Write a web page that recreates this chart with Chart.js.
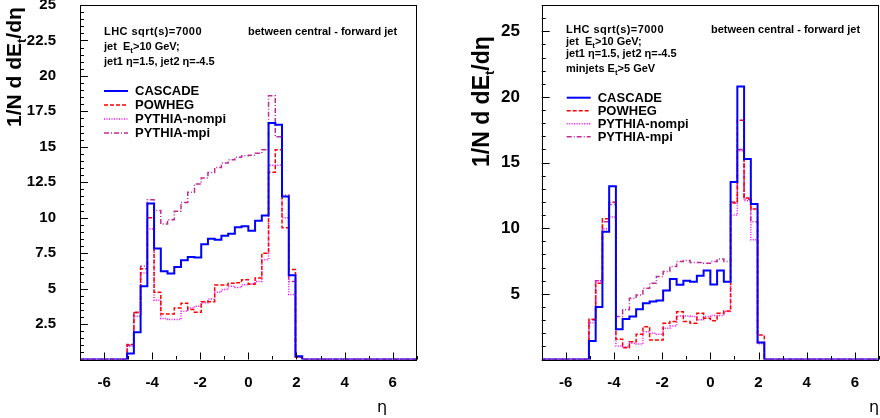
<!DOCTYPE html>
<html><head><meta charset="utf-8">
<script src="https://cdn.jsdelivr.net/npm/chart.js@4.4.1/dist/chart.umd.min.js"></script>
<style>
body{margin:0;background:#fff;}
#wrap{position:relative;width:880px;height:418px;overflow:hidden;background:#fff;}
canvas{position:absolute;top:0;}
.t{position:absolute;font:bold 11px "Liberation Sans",Arial,sans-serif;line-height:14px;white-space:nowrap;color:#000;}
.t sub{font-size:8px;vertical-align:-3px;line-height:0;}
.ls{letter-spacing:0.45px;}
.yt{position:absolute;font:bold 21px "Liberation Sans",Arial,sans-serif;line-height:24px;white-space:nowrap;color:#000;transform-origin:0 0;transform:rotate(-90deg);}
.yt sub{font-size:13px;vertical-align:-5px;line-height:0;}
.eta{position:absolute;font:16px "DejaVu Sans",sans-serif;line-height:20px;color:#000;}
</style></head><body>
<div id="wrap">
<canvas id="cL" width="440" height="418" style="left:0"></canvas>
<canvas id="cR" width="440" height="418" style="left:440px"></canvas>

<div class="yt" style="left:2px;top:127px">1/N d dE<sub>t</sub>/dη</div>
<div class="yt" style="left:468px;top:167px;font-size:23px;line-height:26px">1/N d dE<sub>t</sub>/dη</div>

<div class="t ls" style="left:104px;top:24px">LHC sqrt(s)=7000</div>
<div class="t" style="left:248px;top:24px">between central - forward jet</div>
<div class="t" style="left:104px;top:39px">jet&nbsp; E<sub>t</sub>&gt;10 GeV;</div>
<div class="t" style="left:104px;top:54px">jet1 η=1.5, jet2 η=-4.5</div>

<div class="t ls" style="left:566px;top:22px">LHC sqrt(s)=7000</div>
<div class="t" style="left:711px;top:22px">between central - forward jet</div>
<div class="t" style="left:566px;top:34px">jet&nbsp; E<sub>t</sub>&gt;10 GeV;</div>
<div class="t" style="left:566px;top:46px">jet1 η=1.5, jet2 η=-4.5</div>
<div class="t" style="left:566px;top:61px">minjets E<sub>t</sub>&gt;5 GeV</div>

<div class="eta" style="left:377px;top:397px">η</div>
<div class="eta" style="left:869px;top:397px">η</div>
</div>
<script>
// ---- binning ----
const etaMin = -7, etaMax = 7, nBins = 50;
const seriesNames = ['CASCADE', 'POWHEG', 'PYTHIA-nompi', 'PYTHIA-mpi'];
const xTickValues = [-6, -4, -2, 0, 2, 4, 6];
const yTickValuesLeft = [2.5, 5, 7.5, 10, 12.5, 15, 17.5, 20, 22.5, 25];
const yTickValuesRight = [5, 10, 15, 20, 25];

// ---- left panel (jet E_t > 10 GeV) ----
const cascadeLeft = [0,0,0,0,0,0,0,
  0.42,1.92,5.16,11.0,7.82,6.22,6.06,6.53,7.0,7.23,7.2,8.12,8.52,8.45,8.73,8.87,9.32,9.39,9.08,9.79,10.16,16.67,16.55,11.5,5.94,0.23,
  0,0,0,0,0,0,0,0,0,0,0,0,0,0,0,0,0];
const powhegLeft = [0,0,0,0,0,0,0,
  1.06,3.33,6.4,10.0,4.74,3.2,3.2,3.64,3.97,3.52,3.33,4.08,4.08,5.26,5.26,5.38,5.42,5.63,5.3,5.75,7.5,13.2,14.8,9.3,6.34,0.16,
  0,0,0,0,0,0,0,0,0,0,0,0,0,0,0,0,0];
const nompiLeft = [0,0,0,0,0,0,0,
  0.94,3.05,6.1,9.2,4.18,2.9,2.82,2.82,3.4,3.64,3.76,4.0,4.27,4.74,4.93,5.16,5.07,5.28,5.35,5.5,7.04,13.7,13.7,10.0,4.58,0.2,
  0,0,0,0,0,0,0,0,0,0,0,0,0,0,0,0,0];
const mpiLeft = [0,0,0,0,0,0,0,
  1.0,3.3,6.57,11.27,10.5,9.55,9.86,10.45,11.08,11.8,12.37,12.8,13.19,13.54,13.85,14.08,14.27,14.37,14.41,14.55,14.79,18.6,15.7,11.6,5.5,0.2,
  0,0,0,0,0,0,0,0,0,0,0,0,0,0,0,0,0];

// ---- right panel (minjets E_t > 5 GeV) ----
const cascadeRight = [0,0,0,0,0,0,0,
  1.41,4.0,9.73,13.19,2.3,3.09,3.27,3.83,4.29,4.41,4.49,5.25,6.14,5.69,5.99,5.92,6.37,6.78,5.71,6.78,5.92,13.52,20.8,15.28,11.85,1.29,
  0,0,0,0,0,0,0,0,0,0,0,0,0,0,0,0,0];
const powhegRight = [0,0,0,0,0,0,0,
  3.07,5.8,10.72,11.97,1.54,0.9,1.36,1.92,2.5,1.49,1.49,2.76,2.89,3.63,2.89,2.76,3.52,3.14,2.96,3.52,3.7,11.92,18.23,12.3,11.46,1.87,
  0,0,0,0,0,0,0,0,0,0,0,0,0,0,0,0,0];
const nompiRight = [0,0,0,0,0,0,0,
  2.8,6.0,9.96,10.85,1.03,0.98,1.23,1.18,2.12,2.0,1.92,2.38,2.56,3.32,3.32,3.27,3.02,3.27,3.35,3.35,3.65,11.0,15.9,12.1,9.12,1.2,
  0,0,0,0,0,0,0,0,0,0,0,0,0,0,0,0,0];
const mpiRight = [0,0,0,0,0,0,0,
  3.0,6.0,10.5,11.8,3.27,3.78,4.67,4.92,5.43,5.81,6.32,6.7,7.09,7.47,7.54,7.39,7.39,7.34,7.47,7.65,7.47,12.0,16.0,12.2,10.5,1.3,
  0,0,0,0,0,0,0,0,0,0,0,0,0,0,0,0,0];

// ---- styles ----
const seriesStyles = [
  {color:'#0000ff', width:2,   dash:[]},
  {color:'#ff0000', width:1.5, dash:[4,2]},
  {color:'#ff00ff', width:1.5, dash:[1,1.5]},
  {color:'#c02c96', width:1.5, dash:[5,2,1,2]}
];

function histPoints(vals){
  const w = (etaMax - etaMin) / nBins;
  const pts = vals.map((v,i) => ({x: etaMin + i*w, y: v}));
  pts.push({x: etaMax, y: vals[vals.length-1]});
  return pts;
}

const frameTicks = {
  id: 'frameTicks',
  afterDatasetsDraw(chart, args, o){
    const ctx = chart.ctx, a = chart.chartArea;
    const xs = chart.scales.x, ys = chart.scales.y;
    ctx.save();
    ctx.strokeStyle = '#000'; ctx.lineWidth = 1;
    ctx.strokeRect(Math.round(a.left)+0.5, Math.round(a.top)+0.5, Math.round(a.right-a.left)-1, Math.round(a.bottom-a.top));
    ctx.beginPath();
    for (let v = -7; v <= 7; v += 1){
      const px = Math.round(xs.getPixelForValue(v))+0.5;
      const len = (v % 2 === 0) ? 7 : 3.5;
      ctx.moveTo(px, a.bottom); ctx.lineTo(px, a.bottom - len);
    }
    const ymax = ys.max;
    for (let k = 0; k*o.yMinor <= ymax + 1e-6; k++){
      const v = k*o.yMinor;
      const py = Math.round(ys.getPixelForValue(v))+0.5;
      const major = Math.abs(v/o.yMajor - Math.round(v/o.yMajor)) < 1e-6;
      ctx.moveTo(a.left, py); ctx.lineTo(a.left + (major ? 8 : 4), py);
    }
    ctx.stroke();
    const L = o.legend;
    chart.data.datasets.forEach((ds, i) => {
      const y = L.y0 + i*L.dy;
      ctx.beginPath();
      ctx.strokeStyle = ds.borderColor;
      ctx.lineWidth = ds.borderWidth;
      ctx.setLineDash(ds.borderDash || []);
      ctx.moveTo(L.x, y); ctx.lineTo(L.x + L.len, y);
      ctx.stroke();
      ctx.setLineDash([]);
      ctx.fillStyle = '#000';
      ctx.font = 'bold 13px "Liberation Sans", Arial, sans-serif';
      ctx.textBaseline = 'middle';
      ctx.textAlign = 'left';
      ctx.fillText(ds.label, L.textX, y + 0.5);
    });
    ctx.restore();
  }
};

function makeChart(id, seriesVals, opt){
  const datasets = seriesVals.map((vals, i) => ({
    label: seriesNames[i],
    data: histPoints(vals),
    borderColor: seriesStyles[i].color,
    borderWidth: seriesStyles[i].width,
    borderDash: seriesStyles[i].dash,
    stepped: true,
    pointRadius: 0,
    fill: false
  }));
  return new Chart(document.getElementById(id), {
    type: 'line',
    data: {datasets},
    options: {
      responsive: false, animation: false, devicePixelRatio: 1,
      layout: {padding: {left: 0, right: opt.padRight, top: 5, bottom: 0}},
      plugins: {legend: {display: false}, tooltip: {enabled: false},
        frameTicks: {yMajor: opt.yMajor, yMinor: opt.yMinor, legend: opt.legend}},
      scales: {
        x: {type: 'linear', min: etaMin, max: etaMax,
          grid: {display: false, drawTicks: false}, border: {display: false},
          afterBuildTicks: s => { s.ticks = xTickValues.map(v => ({value: v})); },
          afterFit: s => { s.height = 58.5; s.paddingLeft = 0; s.paddingRight = 0; },
          ticks: {padding: 14.5, color: '#000', maxRotation: 0, autoSkip: false,
            font: {family: '"Liberation Sans", Arial, sans-serif', size: 15, weight: 'bold'}}},
        y: {type: 'linear', min: 0, max: opt.yMax,
          grid: {display: false, drawTicks: false}, border: {display: false},
          afterBuildTicks: s => { s.ticks = opt.yTicks.map(v => ({value: v})); },
          afterFit: s => { s.width = opt.yWidth; s.paddingTop = 0; s.paddingBottom = 0; },
          ticks: {padding: opt.yPad, color: '#000', autoSkip: false,
            font: {family: '"Liberation Sans", Arial, sans-serif', size: opt.yFont, weight: 'bold'}}}
      }
    },
    plugins: [frameTicks]
  });
}

makeChart('cL', [cascadeLeft, powhegLeft, nompiLeft, mpiLeft], {
  padRight: 23.3, yMax: 25, yTicks: yTickValuesLeft, yWidth: 80, yPad: 24, yFont: 15,
  yMajor: 2.5, yMinor: 0.5,
  legend: {x: 104, len: 24, textX: 135, y0: 91, dy: 14}
});
makeChart('cR', [cascadeRight, powhegRight, nompiRight, mpiRight], {
  padRight: 1, yMax: 27, yTicks: yTickValuesRight, yWidth: 101.7, yPad: 21.7, yFont: 17,
  yMajor: 5, yMinor: 1,
  legend: {x: 126.7, len: 24, textX: 157.7, y0: 97.7, dy: 13}
});
</script>
</body></html>
